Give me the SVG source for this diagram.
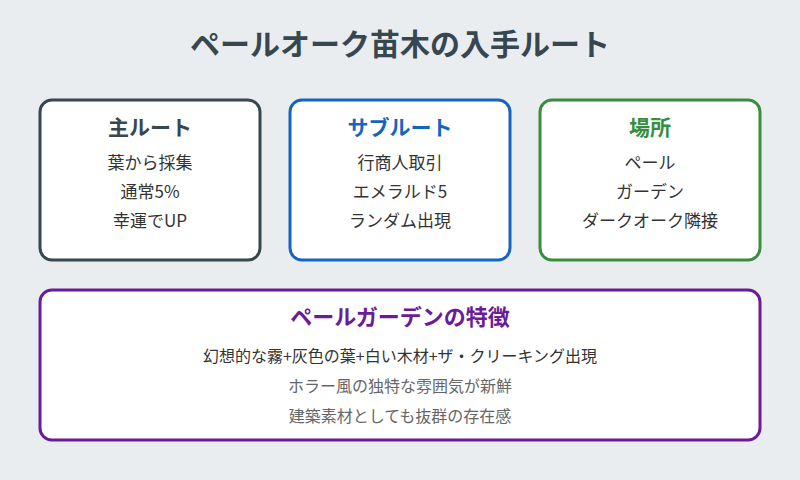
<svg xmlns="http://www.w3.org/2000/svg" width="800" height="480" viewBox="0 0 800 480">
<style>
text{font-family:"Noto Sans CJK JP","Noto Sans",sans-serif;text-anchor:middle}
.box{fill:#fff;stroke-width:3}
.h{font-size:21px;font-weight:bold}
.b{font-size:17px;fill:#333}
.t{font-size:16px;fill:#333}
.g{font-size:16px;fill:#666}
</style>
<rect width="800" height="480" fill="#e9edf0"/>
<text x="400" y="55" font-size="30" font-weight="bold" fill="#37474f">ペールオーク苗木の入手ルート</text>
<g id="main">
<rect class="box" x="40" y="100" width="220" height="160" rx="12" stroke="#37474f"/>
<text class="h" x="150" y="135" fill="#37474f">主ルート</text>
<text class="b" x="150" y="169">葉から採集</text>
<text class="b" x="150" y="198">通常5%</text>
<text class="b" x="150" y="227">幸運でUP</text>
</g>
<g id="sub">
<rect class="box" x="290" y="100" width="220" height="160" rx="12" stroke="#1565c0"/>
<text class="h" x="400" y="135" fill="#1565c0">サブルート</text>
<text class="b" x="400" y="169">行商人取引</text>
<text class="b" x="400" y="198">エメラルド5</text>
<text class="b" x="400" y="227">ランダム出現</text>
</g>
<g id="place">
<rect class="box" x="540" y="100" width="220" height="160" rx="12" stroke="#388e3c"/>
<text class="h" x="650" y="135" fill="#388e3c">場所</text>
<text class="b" x="650" y="169">ペール</text>
<text class="b" x="650" y="198">ガーデン</text>
<text class="b" x="650" y="227">ダークオーク隣接</text>
</g>
<g id="feature">
<rect class="box" x="40" y="290" width="720" height="150" rx="12" stroke="#6a1b9a"/>
<text class="h" x="400" y="325" font-size="22" fill="#6a1b9a" style="font-size:22px">ペールガーデンの特徴</text>
<text class="t" x="400" y="362">幻想的な霧+灰色の葉+白い木材+ザ・クリーキング出現</text>
<text class="g" x="400" y="392">ホラー風の独特な雰囲気が新鮮</text>
<text class="g" x="400" y="422">建築素材としても抜群の存在感</text>
</g>
<g id="connectors"/>
</svg>
